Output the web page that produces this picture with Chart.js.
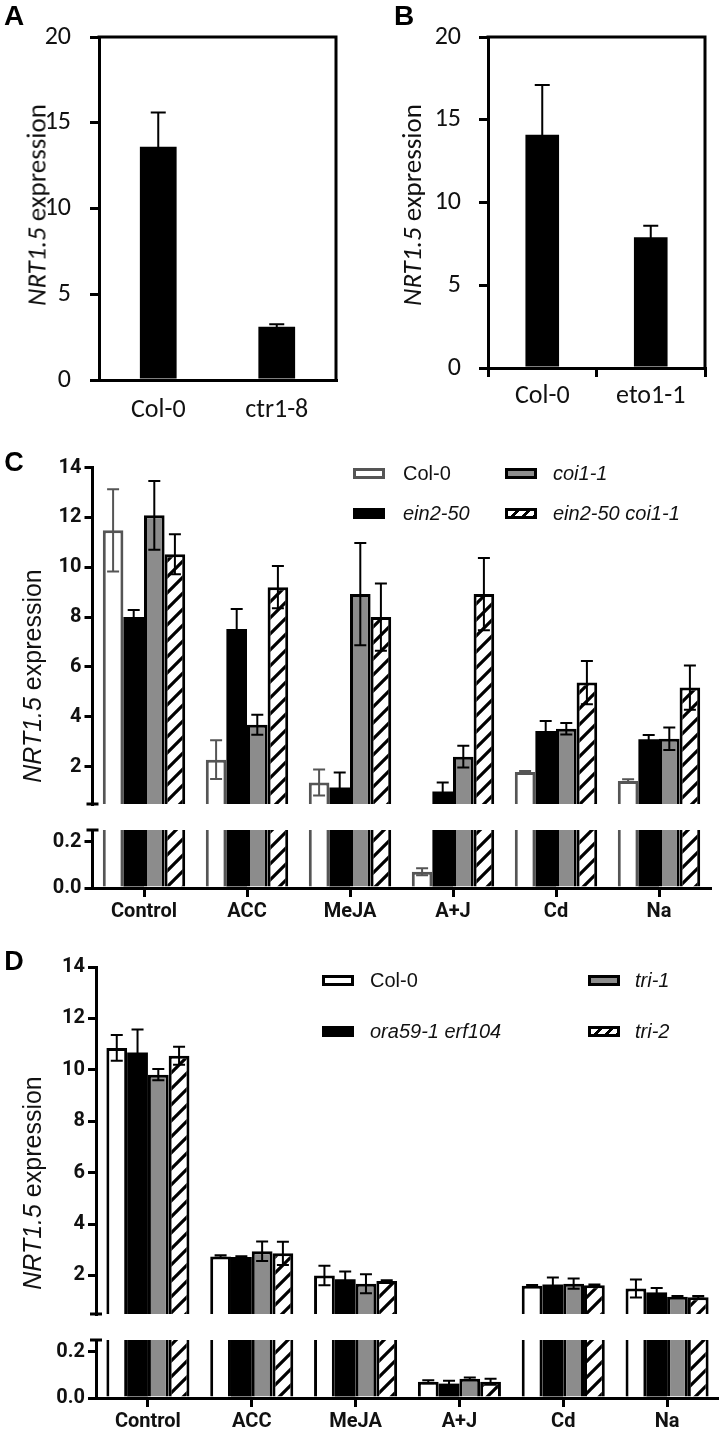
<!DOCTYPE html>
<html>
<head>
<meta charset="utf-8">
<script src="https://cdn.jsdelivr.net/npm/chart.js@4.4.1/dist/chart.umd.min.js"></script>
<style>
html, body { margin: 0; padding: 0; background: #fff; }
#fig { position: relative; width: 719px; height: 1432px; overflow: hidden; background: #fff; }
#fig canvas { position: absolute; }
.t { position: absolute; white-space: nowrap; line-height: 1; color: #111; }
.sw { position: absolute; box-sizing: border-box; width: 32px; height: 11px; }
</style>
</head>
<body>
<div id="fig"></div>
<script>
// panel A
const aLabels = ['Col-0', 'ctr1-8'];
const aValues = [13.6, 3.1];
const aErrors = [2.0, 0.15];

// panel B
const bLabels = ['Col-0', 'eto1-1'];
const bValues = [14.1, 7.9];
const bErrors = [3.0, 0.7];

const abTicks = [0, 5, 10, 15, 20];

// panels C and D
const treatments = ['Control', 'ACC', 'MeJA', 'A+J', 'Cd', 'Na'];
const upperTicks = [2, 4, 6, 8, 10, 12, 14];
const lowerTicks = [0, 0.2];

const cNames = ['Col-0', 'ein2-50', 'coi1-1', 'ein2-50 coi1-1'];
const cCol0 = [11.48, 2.28, 1.36, 0.07, 1.78, 1.42];
const cCol0Err = [1.65, 0.78, 0.52, 0.015, 0.04, 0.07];
const cEin2 = [8.0, 7.52, 1.16, 1.0, 3.43, 3.1];
const cEin2Err = [0.28, 0.8, 0.6, 0.36, 0.4, 0.17];
const cCoi1 = [12.08, 3.68, 8.92, 2.4, 3.52, 3.12];
const cCoi1Err = [1.38, 0.4, 2.05, 0.44, 0.23, 0.45];
const cDouble = [10.52, 9.2, 8.0, 8.92, 5.37, 5.17];
const cDoubleErr = [0.8, 0.85, 1.35, 1.45, 0.87, 0.89];

const dNames = ['Col-0', 'ora59-1 erf104', 'tri-1', 'tri-2'];
const dCol0 = [10.85, 2.74, 2.0, 0.07, 1.6, 1.49];
const dCol0Err = [0.5, 0.05, 0.38, 0.006, 0.03, 0.35];
const dOra = [10.67, 2.72, 1.85, 0.062, 1.65, 1.34];
const dOraErr = [0.9, 0.03, 0.3, 0.012, 0.27, 0.17];
const dTri1 = [9.81, 2.94, 1.68, 0.083, 1.68, 1.17];
const dTri1Err = [0.22, 0.38, 0.37, 0.005, 0.2, 0.03];
const dTri2 = [10.55, 2.86, 1.78, 0.07, 1.62, 1.15];
const dTri2Err = [0.35, 0.45, 0.03, 0.013, 0.03, 0.05];

const calibri = "Carlito, Lato, 'Open Sans', sans-serif";
const narrow = "Roboto, 'Liberation Sans', sans-serif";
const arial = "'Liberation Sans', Arial, sans-serif";

Chart.defaults.animation = false;
Chart.defaults.color = '#111';

const fig = document.getElementById('fig');

function canvasAt(left, top, w, h) {
  const c = document.createElement('canvas');
  c.width = w; c.height = h;
  c.style.left = left + 'px'; c.style.top = top + 'px';
  c.style.width = w + 'px'; c.style.height = h + 'px';
  fig.appendChild(c);
  return c;
}

function textAt(html, x, y, css) {
  const d = document.createElement('div');
  d.className = 't';
  d.innerHTML = html;
  d.style.cssText += 'left:' + x + 'px;top:' + y + 'px;' + css;
  fig.appendChild(d);
  return d;
}

// hatch fill for the double mutant bars
function makeHatch(size, lw) {
  const c = document.createElement('canvas');
  c.width = size; c.height = size;
  const g = c.getContext('2d');
  g.fillStyle = '#fff';
  g.fillRect(0, 0, size, size);
  g.strokeStyle = '#000';
  g.lineWidth = lw;
  g.beginPath();
  g.moveTo(-size / 2, size / 2); g.lineTo(size / 2, -size / 2);
  g.moveTo(0, size); g.lineTo(size, 0);
  g.moveTo(size / 2, size * 1.5); g.lineTo(size * 1.5, size / 2);
  g.stroke();
  return g.createPattern(c, 'repeat');
}
const hatch = makeHatch(16, 3.2);

// error bars drawn with the chart's own y scale
const errorBars = {
  id: 'errorBars',
  afterDatasetsDraw(chart, args, o) {
    const { ctx, chartArea: a } = chart;
    const y = chart.scales.y;
    ctx.save();
    ctx.beginPath();
    ctx.rect(a.left, a.top - 2, a.right - a.left, a.bottom - a.top + 4);
    ctx.clip();
    chart.data.datasets.forEach((ds, di) => {
      if (!ds.errors) return;
      const meta = chart.getDatasetMeta(di);
      meta.data.forEach((bar, i) => {
        const v = ds.data[i], e = ds.errors[i];
        if (v < y.min || v > y.max) return;
        const top = y.getPixelForValue(v + e);
        const bot = y.getPixelForValue(v - e);
        const h = o.cap / 2;
        ctx.strokeStyle = ds.errorColor || '#000';
        ctx.lineWidth = o.width;
        ctx.beginPath();
        ctx.moveTo(bar.x, top); ctx.lineTo(bar.x, bot);
        ctx.moveTo(bar.x - h, top); ctx.lineTo(bar.x + h, top);
        ctx.moveTo(bar.x - h, bot); ctx.lineTo(bar.x + h, bot);
        ctx.stroke();
      });
    });
    ctx.restore();
  }
};

// top + right edges of the box in A and B
const frame = {
  id: 'frame',
  afterDraw(chart, args, o) {
    const { ctx, chartArea: a } = chart;
    ctx.save();
    ctx.strokeStyle = '#000';
    ctx.lineWidth = o.width;
    ctx.lineCap = 'square';
    ctx.beginPath();
    ctx.moveTo(a.left, a.top);
    ctx.lineTo(a.right, a.top);
    ctx.lineTo(a.right, a.bottom);
    ctx.stroke();
    ctx.restore();
  }
};

// little end mark where the y axis is broken
const breakMark = {
  id: 'breakMark',
  afterDraw(chart, args, o) {
    const { ctx, chartArea: a } = chart;
    const yy = o.edge === 'bottom' ? a.bottom : a.top;
    ctx.save();
    ctx.strokeStyle = '#000';
    ctx.lineWidth = 3;
    ctx.beginPath();
    ctx.moveTo(a.left - 6, yy);
    ctx.lineTo(a.left + 6, yy);
    ctx.stroke();
    ctx.restore();
  }
};

function simplePanel(canvas, labels, values, errors, o) {
  return new Chart(canvas, {
    type: 'bar',
    data: {
      labels: labels,
      datasets: [{
        data: values,
        errors: errors,
        backgroundColor: '#000',
        borderWidth: 0,
        categoryPercentage: 1,
        barPercentage: 0.31
      }]
    },
    options: {
      responsive: false,
      devicePixelRatio: 1,
      layout: { padding: { top: 37, right: o.right, left: 0, bottom: 0 } },
      plugins: {
        legend: { display: false },
        tooltip: { enabled: false },
        errorBars: { cap: 15, width: 2 },
        frame: { width: 3 }
      },
      scales: {
        x: {
          grid: { display: o.xTicks, drawOnChartArea: false, tickLength: 9, color: '#000', lineWidth: 3 },
          border: { display: true, color: '#000', width: 3 },
          ticks: { color: '#111', padding: o.xPad, font: { family: calibri, size: 26 } },
          afterFit: s => { s.height = o.xHeight; }
        },
        y: {
          min: 0, max: 20,
          afterBuildTicks: s => { s.ticks = abTicks.map(v => ({ value: v })); },
          afterFit: s => { s.width = o.yWidth; },
          grid: { display: true, drawOnChartArea: false, tickLength: 9, color: '#000', lineWidth: 3 },
          border: { display: true, color: '#000', width: 3 },
          ticks: { color: '#111', padding: o.yPad, font: { family: calibri, size: 26 } }
        }
      }
    },
    plugins: [errorBars, frame]
  });
}

// cap: values taller than the segment are cut a bit above its top (clip hides the rest)
function seriesSets(names, vals, errs, styles, cap) {
  return names.map((n, k) => ({
    label: n,
    data: cap ? vals[k].map(v => Math.min(v, cap)) : vals[k],
    errors: errs[k],
    backgroundColor: styles[k].fill,
    borderColor: styles[k].border,
    errorColor: styles[k].err,
    borderWidth: styles[k].bw,
    clip: 0,
    categoryPercentage: 0.8,
    barPercentage: 1
  }));
}

function brokenPanel(names, vals, errs, styles, L) {
  const yFont = { family: narrow, size: 20, weight: 'bold' };
  const yAxis = (min, max, ticks, fmt) => ({
    min: min, max: max,
    afterBuildTicks: s => { s.ticks = ticks.map(v => ({ value: v })); },
    afterFit: s => { s.width = L.yWidth; },
    grid: { display: true, drawOnChartArea: false, tickLength: 8, color: '#000', lineWidth: 3 },
    border: { display: true, color: '#000', width: 3 },
    ticks: { color: '#111', padding: 3, font: yFont, callback: fmt }
  });

  // upper segment
  new Chart(canvasAt(0, L.upTop, 719, L.upHeight), {
    type: 'bar',
    data: { labels: treatments, datasets: seriesSets(names, vals, errs, styles, 0) },
    options: {
      responsive: false,
      devicePixelRatio: 1,
      layout: { padding: { top: L.upPadTop, right: L.right, left: 0, bottom: 15 } },
      plugins: {
        legend: { display: false }, tooltip: { enabled: false },
        errorBars: { cap: 12, width: 2 },
        breakMark: { edge: 'bottom' }
      },
      scales: {
        x: { display: false },
        y: yAxis(0.5, 14, upperTicks, v => v)
      }
    },
    plugins: [errorBars, breakMark]
  });

  // lower segment
  new Chart(canvasAt(0, L.lowTop, 719, L.lowHeight), {
    type: 'bar',
    data: { labels: treatments, datasets: seriesSets(names, vals, errs, styles, 0.3) },
    options: {
      responsive: false,
      devicePixelRatio: 1,
      layout: { padding: { top: 16, right: L.right, left: 0, bottom: 0 } },
      plugins: {
        legend: { display: false }, tooltip: { enabled: false },
        errorBars: { cap: 12, width: 2 },
        breakMark: { edge: 'top' }
      },
      scales: {
        x: {
          grid: { display: true, offset: false, drawOnChartArea: false, tickLength: 9, color: '#000', lineWidth: 3 },
          border: { display: true, color: '#000', width: 3 },
          ticks: { color: '#111', padding: 3, font: { family: narrow, size: 20, weight: 'bold' } },
          afterFit: s => { s.height = L.xHeight; }
        },
        y: yAxis(0, 0.25, lowerTicks, v => Number(v).toFixed(1))
      }
    },
    plugins: [errorBars, breakMark]
  });
}

// A and B
simplePanel(canvasAt(0, 0, 345, 430), aLabels, aValues, aErrors,
  { right: 9, yWidth: 99, xHeight: 50, xPad: 6, yPad: 19, xTicks: false });
simplePanel(canvasAt(360, 0, 359, 430), bLabels, bValues, bErrors,
  { right: 14, yWidth: 128, xHeight: 62, xPad: 4, yPad: 18, xTicks: true });

// C
brokenPanel(cNames, [cCol0, cEin2, cCoi1, cDouble], [cCol0Err, cEin2Err, cCoi1Err, cDoubleErr], [
  { fill: '#fff', border: '#555', err: '#555', bw: 3 },
  { fill: '#000', border: '#000', err: '#000', bw: 0 },
  { fill: '#8c8c8c', border: '#000', err: '#000', bw: 3 },
  { fill: hatch, border: '#000', err: '#000', bw: 3 }
], { upTop: 440, upPadTop: 27.5, upHeight: 379, lowTop: 814, lowHeight: 121, xHeight: 47, yWidth: 92.5, right: 8.5 });

// D
brokenPanel(dNames, [dCol0, dOra, dTri1, dTri2], [dCol0Err, dOraErr, dTri1Err, dTri2Err], [
  { fill: '#fff', border: '#000', err: '#000', bw: 3 },
  { fill: '#000', border: '#000', err: '#000', bw: 0 },
  { fill: '#8c8c8c', border: '#000', err: '#000', bw: 3 },
  { fill: hatch, border: '#000', err: '#000', bw: 3 }
], { upTop: 940, upPadTop: 27, upHeight: 389, lowTop: 1324, lowHeight: 108, xHeight: 34, yWidth: 96, right: 0 });

// panel letters
textAt('A', 14, 16, 'font:bold 28px ' + arial + ';color:#000;transform:translate(-50%,-50%);');
textAt('B', 404, 16, 'font:bold 28px ' + arial + ';color:#000;transform:translate(-50%,-50%);');
textAt('C', 14, 462, 'font:bold 27px ' + arial + ';color:#000;transform:translate(-50%,-50%);');
textAt('D', 14, 961, 'font:bold 27px ' + arial + ';color:#000;transform:translate(-50%,-50%);');

// y axis titles
const yTitle = '<i>NRT1.5</i> expression';
textAt(yTitle, 36, 205, 'font:27px ' + calibri + ';transform:translate(-50%,-50%) rotate(-90deg);');
textAt(yTitle, 411, 205, 'font:27px ' + calibri + ';transform:translate(-50%,-50%) rotate(-90deg);');
textAt(yTitle, 32, 676, 'font:25px ' + arial + ';transform:translate(-50%,-50%) rotate(-90deg);');
textAt(yTitle, 32, 1183, 'font:25px ' + arial + ';transform:translate(-50%,-50%) rotate(-90deg);');

// legends
function legendItem(x, y, textX, name, italic, sw) {
  const s = document.createElement('div');
  s.className = 'sw';
  s.style.left = x + 'px';
  s.style.top = (y - 5.5) + 'px';
  s.style.cssText += sw;
  fig.appendChild(s);
  textAt(name, textX, y, 'font:' + (italic ? 'italic ' : '') + '20px ' + arial + ';transform:translateY(-50%);');
}
const hatchCss = 'background:repeating-linear-gradient(135deg,#fff 0 5px,#000 5px 8px);';

legendItem(353, 473, 403, cNames[0], false, 'border:3px solid #555;background:#fff;');
legendItem(505, 473, 553, cNames[2], true, 'border:3px solid #000;background:#8c8c8c;');
legendItem(353, 513, 403, cNames[1], true, 'border:3px solid #000;background:#000;');
legendItem(505, 513, 553, cNames[3], true, 'border:3px solid #000;' + hatchCss);

legendItem(322, 980, 370, dNames[0], false, 'border:3px solid #000;background:#fff;');
legendItem(588, 980, 635, dNames[2], true, 'border:3px solid #000;background:#8c8c8c;');
legendItem(322, 1031, 370, dNames[1], true, 'border:3px solid #000;background:#000;');
legendItem(588, 1031, 635, dNames[3], true, 'border:3px solid #000;' + hatchCss);
</script>
</body>
</html>
